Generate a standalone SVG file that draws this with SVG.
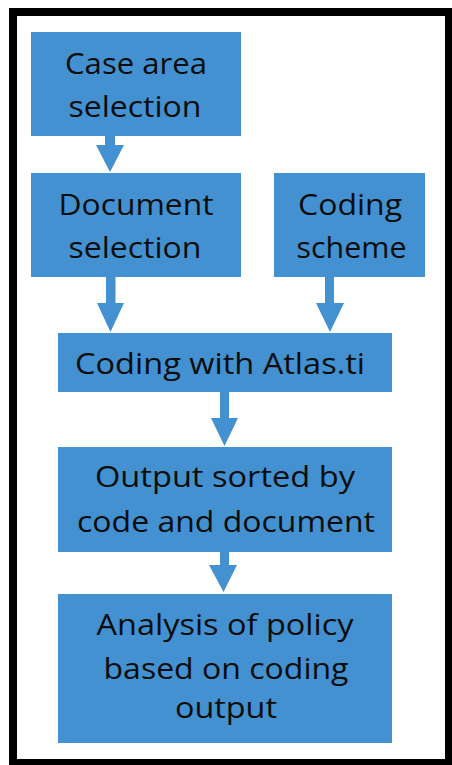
<svg xmlns="http://www.w3.org/2000/svg" width="452" height="765" viewBox="0 0 452 765">
<style>
.box{fill:#4391d0;}
.arr{fill:#4391d0;}
.t{font-family:"Open Sans","Liberation Sans",sans-serif;font-size:29px;fill:#0d0d0d;text-anchor:middle;}
</style>
<rect x="0" y="0" width="452" height="765" fill="#ffffff"/>
<rect x="13" y="12" width="436" height="751" fill="#ffffff" stroke="#000000" stroke-width="8"/>
<g id="connectors">
<polygon class="arr" points="105,135 115,135 115,145 124,145 110,172 96,145 105,145"/>
<polygon class="arr" points="106,276 115.5,276 115.5,303 124,303 110.5,332 97,303 106,303"/>
<polygon class="arr" points="325,276 334,276 334,303 344,303 330,332 316,303 325,303"/>
<polygon class="arr" points="220,391 229,391 229,418 238,418 224.5,446 211,418 220,418"/>
<polygon class="arr" points="220,551 229,551 229,565 237,565 223.5,592 209,565 220,565"/>
</g>
<g id="case-area">
<rect class="box" x="31" y="32" width="210" height="104"/>
<text class="t" x="136" y="73.5" textLength="142" lengthAdjust="spacingAndGlyphs">Case area</text>
<text class="t" x="135" y="116.5" textLength="133" lengthAdjust="spacingAndGlyphs">selection</text>
</g>
<g id="document">
<rect class="box" x="31" y="173" width="210" height="104"/>
<text class="t" x="136" y="214.5" textLength="155" lengthAdjust="spacingAndGlyphs">Document</text>
<text class="t" x="135" y="257.5" textLength="133" lengthAdjust="spacingAndGlyphs">selection</text>
</g>
<g id="coding-scheme">
<rect class="box" x="274" y="173" width="151" height="104"/>
<text class="t" x="350" y="214.5" textLength="104" lengthAdjust="spacingAndGlyphs">Coding</text>
<text class="t" x="351.5" y="257.5" textLength="110" lengthAdjust="spacingAndGlyphs">scheme</text>
</g>
<g id="coding-atlas">
<rect class="box" x="58" y="333" width="334" height="59"/>
<text class="t" x="220" y="373.5" textLength="290" lengthAdjust="spacingAndGlyphs">Coding with Atlas.ti</text>
</g>
<g id="output-sorted">
<rect class="box" x="58" y="447" width="334" height="105"/>
<text class="t" x="225" y="486.5" textLength="260" lengthAdjust="spacingAndGlyphs">Output sorted by</text>
<text class="t" x="226" y="531.5" textLength="298" lengthAdjust="spacingAndGlyphs">code and document</text>
</g>
<g id="analysis">
<rect class="box" x="58" y="594" width="334" height="149"/>
<text class="t" x="225" y="635" textLength="257" lengthAdjust="spacingAndGlyphs">Analysis of policy</text>
<text class="t" x="226" y="678.5" textLength="245" lengthAdjust="spacingAndGlyphs">based on coding</text>
<text class="t" x="226" y="718" textLength="102" lengthAdjust="spacingAndGlyphs">output</text>
</g>
</svg>
